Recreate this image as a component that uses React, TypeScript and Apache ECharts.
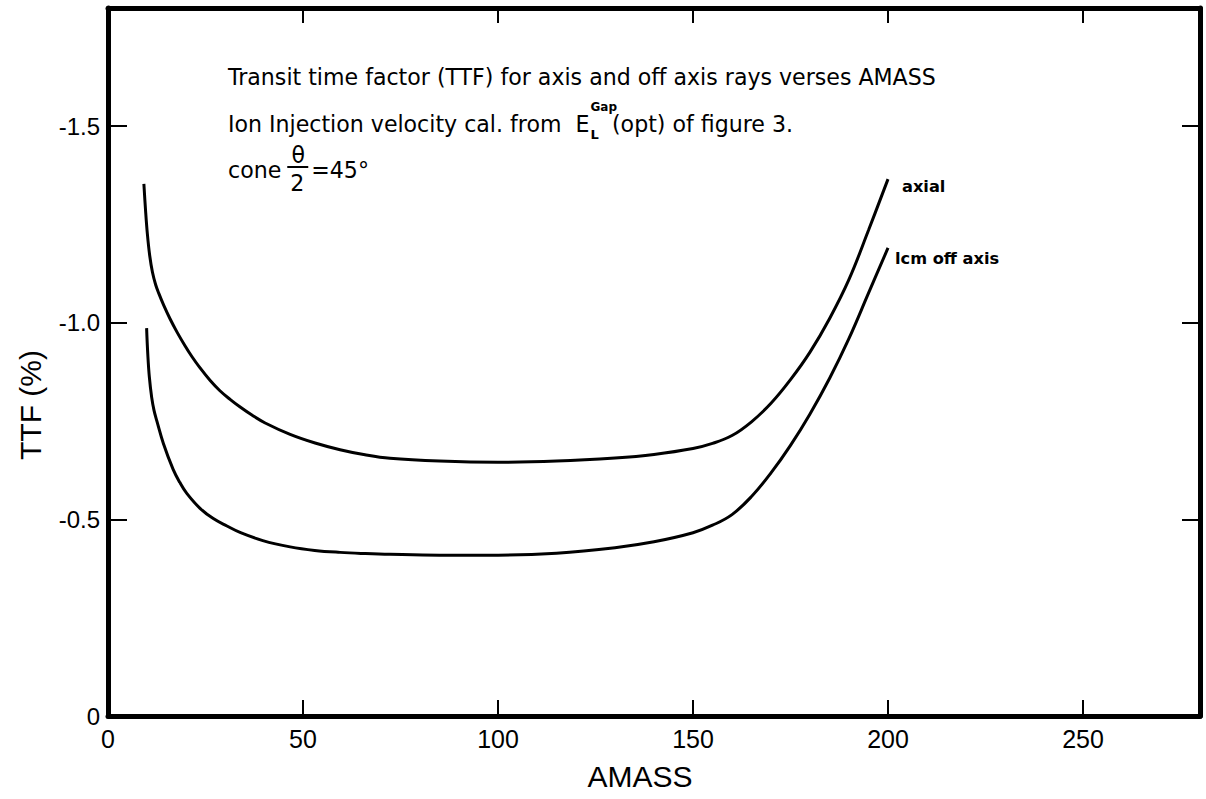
import React, { useEffect, useRef } from "react";
import * as echarts from "echarts";

// ---- data ----
const xTickValues = [0, 50, 100, 150, 200, 250];
const yTickValues = [0, -0.5, -1.0, -1.5];

const axialAmass = [9.2, 9.6, 10.1, 10.7, 11.4, 12.2, 13.0, 14.3, 15.9, 17.7, 19.7, 21.5, 23.6, 26.2, 28.7, 31.3, 33.8, 36.9, 40.3, 46.7, 53.1, 59.5, 65.9, 72.3, 85, 100, 115, 130, 140, 150, 155, 160, 165, 170, 175, 180, 185, 190, 195, 200];
const axialTtf = [-1.353, -1.29, -1.225, -1.17, -1.128, -1.097, -1.075, -1.044, -1.01, -0.976, -0.942, -0.914, -0.885, -0.853, -0.827, -0.805, -0.786, -0.765, -0.745, -0.716, -0.694, -0.677, -0.664, -0.655, -0.648, -0.645, -0.648, -0.656, -0.665, -0.68, -0.693, -0.713, -0.748, -0.795, -0.855, -0.925, -1.01, -1.11, -1.235, -1.365];

const offAmass = [9.9, 10.2, 10.6, 11.2, 11.8, 12.5, 14.2, 16.7, 18.4, 20.2, 23.6, 27.0, 30.5, 34.0, 39.7, 46.7, 53.0, 59.5, 66.0, 72.3, 85, 100, 115, 130, 140, 150, 155, 160, 165, 170, 175, 180, 185, 190, 195, 200];
const offTtf = [-0.986, -0.92, -0.862, -0.81, -0.777, -0.751, -0.693, -0.627, -0.594, -0.566, -0.528, -0.502, -0.483, -0.466, -0.446, -0.43, -0.421, -0.416, -0.413, -0.411, -0.409, -0.409, -0.414, -0.428, -0.443, -0.466, -0.485, -0.512, -0.558, -0.618, -0.688, -0.768, -0.858, -0.96, -1.075, -1.19];

const titleLine1 = "Transit time factor (TTF) for axis and off axis rays verses AMASS";
const titleLine2a = "Ion Injection velocity cal. from  E";
const titleLine2b = "(opt) of figure 3.";
const supText = "Gap";
const subText = "L";
const coneText = "cone";
const thetaText = "\u03b8";
const twoText = "2";
const angleText = "=45\u00b0";
const axialLabel = "axial";
const offLabel = "lcm off axis";
const xName = "AMASS";
const yName = "TTF (%)";

const FONT = "'Liberation Sans', Arial, Helvetica, sans-serif";
const NOTE_FONT = "'DejaVu Sans', 'Liberation Sans', sans-serif";

function measure(text: string, size: number, family: string, weight = "normal"): number {
  const ctx = document.createElement("canvas").getContext("2d");
  if (!ctx) return text.length * size * 0.55;
  ctx.font = `${weight} ${size}px ${family}`;
  return ctx.measureText(text).width;
}

export default function App() {
  const ref = useRef<HTMLDivElement>(null);

  useEffect(() => {
    if (!ref.current) return;
    const chart = echarts.init(ref.current, null, { renderer: "svg" });

    const black = "#000";
    const axisLine = { show: true, onZero: false, lineStyle: { color: black, width: 5 } };
    const tick = (len: number) => ({ show: true, inside: true, length: len, lineStyle: { color: black, width: 2 } });

    const x0 = 228;
    // fit the annotation lettering to the width it has in the reference
    const line1Target = 708;
    const fs = Math.round((20 * line1Target) / measure(titleLine1, 20, NOTE_FONT) * 10) / 10;
    const wA = measure(titleLine2a, fs, NOTE_FONT);
    const wCone = measure(coneText, fs, NOTE_FONT);
    const wGap = measure(supText, 12, NOTE_FONT, "bold");
    const labFs = Math.round((16 * 104) / measure(offLabel, 16, NOTE_FONT, "bold") * 10) / 10;

    const txt = (text: string, x: number, y: number, size: number, extra: any = {}) => ({
      type: "text",
      x,
      y,
      silent: true,
      rotation: extra.rotation || 0,
      style: {
        text,
        fill: black,
        font: `${extra.weight || "normal"} ${size}px ${extra.family || NOTE_FONT}`,
        align: extra.align || "left",
        verticalAlign: "middle",
      },
    });

    const option: any = {
      animation: false,
      backgroundColor: "#fff",
      grid: { left: 108, right: 6, top: 8, bottom: 83 },
      xAxis: [
        {
          type: "value",
          min: 0,
          max: 280,
          interval: 50,
          position: "bottom",
          axisLine,
          axisTick: tick(16),
          splitLine: { show: false },
          axisLabel: {
            color: black,
            fontSize: 25,
            fontFamily: FONT,
            margin: 10,
            formatter: (v: number) => (xTickValues.includes(v) ? String(v) : ""),
          },
        },
        {
          type: "value",
          min: 0,
          max: 280,
          interval: 50,
          position: "top",
          axisLine,
          axisTick: tick(15),
          splitLine: { show: false },
          axisLabel: { show: false },
        },
      ],
      yAxis: [
        {
          type: "value",
          min: -1.8,
          max: 0,
          inverse: true,
          splitNumber: 4,
          minInterval: 0.5,
          maxInterval: 0.5,
          position: "left",
          axisLine,
          axisTick: tick(19),
          splitLine: { show: false },
          axisLabel: {
            color: black,
            fontSize: 24,
            fontFamily: FONT,
            margin: 8,
            formatter: (v: number) => {
              const hit = yTickValues.find((t) => Math.abs(t - v) < 1e-6);
              if (hit === undefined) return "";
              return hit === 0 ? "0" : hit.toFixed(1);
            },
          },
        },
        {
          type: "value",
          min: -1.8,
          max: 0,
          inverse: true,
          splitNumber: 4,
          minInterval: 0.5,
          maxInterval: 0.5,
          position: "right",
          axisLine,
          axisTick: tick(18),
          splitLine: { show: false },
          axisLabel: { show: false },
        },
      ],
      series: [
        {
          name: axialLabel,
          type: "line",
          data: axialAmass.map((x, i) => [x, axialTtf[i]]),
          showSymbol: false,
          symbol: "none",
          smooth: 0.4,
          lineStyle: { color: black, width: 3 },
        },
        {
          name: offLabel,
          type: "line",
          data: offAmass.map((x, i) => [x, offTtf[i]]),
          showSymbol: false,
          symbol: "none",
          smooth: 0.4,
          lineStyle: { color: black, width: 3 },
        },
      ],
      graphic: [
        txt(titleLine1, x0, 77, fs),
        txt(titleLine2a, x0, 124, fs),
        txt(supText, x0 + wA + 1, 107, 12, { weight: "bold" }),
        txt(subText, x0 + wA + 1, 134, 13, { weight: "bold" }),
        txt(titleLine2b, x0 + wA + wGap - 4, 124, fs),
        txt(coneText, x0, 170, fs),
        txt(thetaText, x0 + wCone + 17, 155, fs, { align: "center" }),
        {
          type: "line",
          silent: true,
          shape: { x1: x0 + wCone + 6, y1: 167, x2: x0 + wCone + 27, y2: 167 },
          style: { stroke: black, lineWidth: 2 },
        },
        txt(twoText, x0 + wCone + 16, 183, fs, { align: "center" }),
        txt(angleText, x0 + wCone + 30, 170, fs),
        txt(axialLabel, 902, 186, labFs, { weight: "bold" }),
        txt(offLabel, 895, 258, labFs, { weight: "bold" }),
        txt(xName, 640, 776, 30, { align: "center", family: FONT }),
        txt(yName, 30, 405, 30, { align: "center", rotation: Math.PI / 2, family: FONT }),
      ],
    };

    chart.setOption(option);
    return () => chart.dispose();
  }, []);

  return (
    <div
      ref={ref}
      style={{ position: "absolute", left: 0, top: 0, width: 1206, height: 799, background: "#fff" }}
    />
  );
}
